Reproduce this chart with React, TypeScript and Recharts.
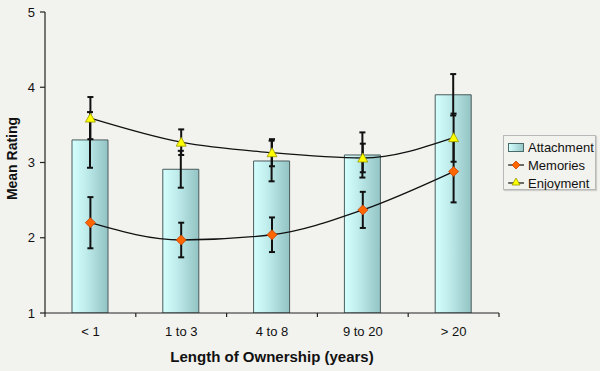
import { ComposedChart, Bar, Line, XAxis, YAxis, ErrorBar } from 'recharts';

const categories = ['< 1', '1 to 3', '4 to 8', '9 to 20', '> 20'];
const attachment = [3.3, 2.91, 3.02, 3.1, 3.9];
const attachmentErr = [0.37, 0.245, 0.27, 0.3, 0.275];
const memories = [2.2, 1.97, 2.04, 2.37, 2.88];
const memoriesErr = [0.34, 0.23, 0.23, 0.24, 0.41];
const enjoyment = [3.59, 3.27, 3.13, 3.06, 3.33];
const enjoymentErr = [0.28, 0.17, 0.18, 0.19, 0.32];
const yTicks = [1, 2, 3, 4, 5];

const data = categories.map((name, i) => ({
  name,
  attachment: attachment[i],
  attachmentErr: attachmentErr[i],
  memories: memories[i],
  memoriesErr: memoriesErr[i],
  enjoyment: enjoyment[i],
  enjoymentErr: enjoymentErr[i],
}));

const FONT = '"Liberation Sans", Arial, sans-serif';
const BG = '#f2f2ee';
const BAND = 454 / categories.length;

function Diamond({ cx, cy, size = 5 }: any) {
  if (cx == null || cy == null) return null;
  return (
    <path
      d={`M${cx},${cy - size}L${cx + size},${cy}L${cx},${cy + size}L${cx - size},${cy}Z`}
      fill="#ff6600"
      stroke="#c84000"
      strokeWidth={0.8}
    />
  );
}

function Triangle({ cx, cy, size = 5 }: any) {
  if (cx == null || cy == null) return null;
  return (
    <path
      d={`M${cx},${cy - size}L${cx + size},${cy + size - 1}L${cx - size},${cy + size - 1}Z`}
      fill="#ffff00"
      stroke="#999900"
      strokeWidth={0.8}
    />
  );
}

function CategoryTick({ x, y, payload, index }: any) {
  const left = x - BAND / 2;
  return (
    <g>
      <line x1={left} y1={y - 8} x2={left} y2={y - 4} stroke="#222" strokeWidth={1.2} />
      {index === categories.length - 1 && (
        <line x1={left + BAND} y1={y - 8} x2={left + BAND} y2={y - 4} stroke="#222" strokeWidth={1.2} />
      )}
      <text x={x} y={y + 15} textAnchor="middle" fontSize={13} fill="#111" fontFamily={FONT}>
        {payload.value}
      </text>
    </g>
  );
}

function LegendBox() {
  return (
    <div
      style={{
        position: 'absolute',
        left: 503,
        top: 135,
        width: 93,
        height: 55,
        border: '1px solid #b8b8b8',
        background: BG,
        boxShadow: '1px 1px 1px rgba(0,0,0,0.15)',
        boxSizing: 'border-box',
      }}
    >
      <svg width={92} height={54} style={{ display: 'block' }}>
        <defs>
          <linearGradient id="legGrad" x1="0" y1="0" x2="1" y2="0">
            <stop offset="0%" stopColor="#d4ffff" />
            <stop offset="100%" stopColor="#96c6c6" />
          </linearGradient>
        </defs>
        <rect x={4.5} y={7.5} width={15} height={8} fill="url(#legGrad)" stroke="#4a6a6a" />
        <text x={24} y={16} fontSize={13} fontFamily={FONT} fill="#111">Attachment</text>
        <line x1={4} y1={29} x2={20} y2={29} stroke="#111" strokeWidth={1.2} />
        <Diamond cx={12} cy={29} size={4} />
        <text x={24} y={34} fontSize={13} fontFamily={FONT} fill="#111">Memories</text>
        <line x1={4} y1={47} x2={20} y2={47} stroke="#111" strokeWidth={1.2} />
        <Triangle cx={12} cy={46} size={4} />
        <text x={24} y={52} fontSize={13} fontFamily={FONT} fill="#111">Enjoyment</text>
      </svg>
    </div>
  );
}

export default function App() {
  return (
    <div style={{ width: 600, height: 371, background: BG, position: 'relative' }}>
      <style>{`body{margin:0}`}</style>
      <ComposedChart
        width={600}
        height={371}
        data={data}
        margin={{ top: 12, right: 101, bottom: 0, left: 0 }}
        style={{ background: BG }}
      >
        <defs>
          <linearGradient id="barGrad" x1="0" y1="0" x2="1" y2="0">
            <stop offset="0%" stopColor="#d4ffff" />
            <stop offset="35%" stopColor="#c2eeee" />
            <stop offset="100%" stopColor="#93c3c3" />
          </linearGradient>
        </defs>
        <XAxis
          dataKey="name"
          height={58}
          axisLine={{ stroke: '#222', strokeWidth: 1.2 }}
          tickLine={false}
          tick={<CategoryTick />}
          interval={0}
          label={{
            value: 'Length of Ownership (years)',
            position: 'insideBottom',
            offset: 9,
            style: { fontFamily: FONT, fontSize: 15, fontWeight: 'bold', fill: '#111' },
          }}
        />
        <YAxis
          width={45}
          domain={[1, 5]}
          ticks={yTicks}
          allowDataOverflow
          axisLine={{ stroke: '#222', strokeWidth: 1.2 }}
          tickLine={{ stroke: '#222', strokeWidth: 1.2 }}
          tickSize={5}
          tickMargin={5}
          tick={{ fontFamily: FONT, fontSize: 13, fill: '#111' }}
          label={{
            value: 'Mean Rating',
            angle: -90,
            position: 'insideLeft',
            offset: 12,
            dy: -4,
            style: { fontFamily: FONT, fontSize: 14, fontWeight: 'bold', fill: '#111', textAnchor: 'middle' },
          }}
        />
        <Bar
          dataKey="attachment"
          name="Attachment"
          barSize={36}
          fill="url(#barGrad)"
          stroke="#4a5c5c"
          strokeWidth={1}
          isAnimationActive={false}
        >
          <ErrorBar dataKey="attachmentErr" width={3} stroke="#111" strokeWidth={2} direction="y" />
        </Bar>
        <Line
          dataKey="memories"
          name="Memories"
          type="monotone"
          stroke="#111"
          strokeWidth={1.3}
          dot={<Diamond />}
          activeDot={false}
          isAnimationActive={false}
        >
          <ErrorBar dataKey="memoriesErr" width={3} stroke="#111" strokeWidth={2} direction="y" />
        </Line>
        <Line
          dataKey="enjoyment"
          name="Enjoyment"
          type="monotone"
          stroke="#111"
          strokeWidth={1.3}
          dot={<Triangle />}
          activeDot={false}
          isAnimationActive={false}
        >
          <ErrorBar dataKey="enjoymentErr" width={3} stroke="#111" strokeWidth={2} direction="y" />
        </Line>
      </ComposedChart>
      <LegendBox />
    </div>
  );
}
